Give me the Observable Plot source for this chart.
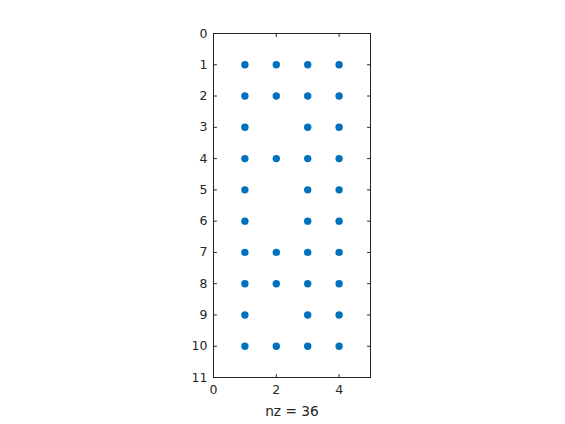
<!DOCTYPE html>
<html>
<head>
<meta charset="utf-8">
<script src="https://cdn.jsdelivr.net/npm/d3@7"></script>
<script src="https://cdn.jsdelivr.net/npm/@observablehq/plot@0.6"></script>
<style>
  html, body { margin: 0; padding: 0; background: #fff; }
  #chart { width: 565px; height: 424px; }
</style>
</head>
<body>
<div id="chart"></div>
<script>
// Nonzero pattern: row indices per column
const columns = [1, 2, 3, 4];
const col1Rows = [1, 2, 3, 4, 5, 6, 7, 8, 9, 10];
const col2Rows = [1, 2, 4, 7, 8, 10];
const col3Rows = [1, 2, 3, 4, 5, 6, 7, 8, 9, 10];
const col4Rows = [1, 2, 3, 4, 5, 6, 7, 8, 9, 10];
const xTicks = [0, 2, 4];
const yTicks = [0, 1, 2, 3, 4, 5, 6, 7, 8, 9, 10, 11];
const xLabel = "nz = 36";

const rowsByCol = [col1Rows, col2Rows, col3Rows, col4Rows];
const points = [];
columns.forEach((c, i) => rowsByCol[i].forEach(r => points.push({col: c, row: r})));

const ink = "#262626";
const tickShape = {draw(ctx, l) { ctx.moveTo(0, 0); ctx.lineTo(0, -l); }};
const tickLen = 3;

const chart = Plot.plot({
  width: 565,
  height: 424,
  marginLeft: 213,
  marginRight: 195,
  marginTop: 33,
  marginBottom: 47,
  style: {fontFamily: "DejaVu Sans, sans-serif", fontSize: "12.5px", color: ink, background: "#fff"},
  x: {domain: [0, 5]},
  y: {domain: [0, 11], reverse: true},
  marks: [
    Plot.frame({stroke: ink, strokeWidth: 1}),
    Plot.axisY(yTicks, {anchor: "left", tickSize: 0, tickPadding: 6, label: null, fill: ink, fontSize: 12.5}),
    Plot.axisX(xTicks, {anchor: "bottom", tickSize: 0, tickPadding: 8, label: null, fill: ink, fontSize: 12.5}),
    // inward ticks
    Plot.vector(yTicks, {x: 0, y: d => d, length: tickLen, rotate: 90, anchor: "start", shape: tickShape, stroke: ink, strokeWidth: 1}),
    Plot.vector(yTicks, {x: 5, y: d => d, length: tickLen, rotate: 270, anchor: "start", shape: tickShape, stroke: ink, strokeWidth: 1}),
    Plot.vector(xTicks, {x: d => d, y: 11, length: tickLen, rotate: 0, anchor: "start", shape: tickShape, stroke: ink, strokeWidth: 1}),
    Plot.vector(xTicks, {x: d => d, y: 0, length: tickLen, rotate: 180, anchor: "start", shape: tickShape, stroke: ink, strokeWidth: 1}),
    Plot.dot(points, {x: "col", y: "row", r: 3.7, fill: "#0072BD", stroke: null}),
    Plot.text([xLabel], {frameAnchor: "bottom", lineAnchor: "bottom", dy: 38, fontSize: 13.75, fill: ink, text: d => d})
  ]
});
document.getElementById("chart").appendChild(chart);
</script>
</body>
</html>
